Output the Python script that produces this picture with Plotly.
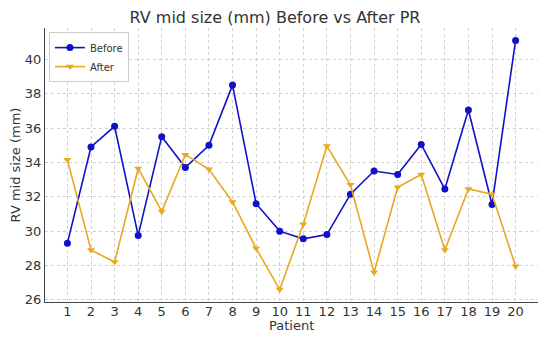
import plotly.graph_objects as go

patients = list(range(1, 21))
before = [29.3, 34.9, 36.1, 29.75, 35.5, 33.7, 35.0, 38.5, 31.6, 30.0,
          29.55, 29.8, 32.15, 33.5, 33.3, 35.05, 32.45, 37.05, 31.55, 41.1]
after = [34.15, 28.9, 28.2, 33.65, 31.15, 34.45, 33.6, 31.7, 29.0, 26.6,
         30.4, 34.95, 32.7, 27.6, 32.55, 33.3, 28.9, 32.45, 32.15, 27.95]
tick_y = [26, 28, 30, 32, 34, 36, 38, 40]

fig = go.Figure()
fig.add_trace(go.Scatter(x=patients, y=before, name="Before", mode="lines+markers",
                         line=dict(color="#1010c8", width=1.6),
                         marker=dict(symbol="circle", size=7, color="#1010c8")))
fig.add_trace(go.Scatter(x=patients, y=after, name="After", mode="lines+markers",
                         line=dict(color="#e8a820", width=1.6),
                         marker=dict(symbol="triangle-down", size=7, color="#e8a820")))

font = "DejaVu Sans, sans-serif"
fig.update_layout(
    width=550, height=340,
    margin=dict(l=45, r=12, t=28, b=38),
    paper_bgcolor="white", plot_bgcolor="white",
    font=dict(family=font, color="#333333", size=13),
    title=dict(text="RV mid size (mm) Before vs After PR", x=0.5, xanchor="center",
               y=0.95, yanchor="middle", font=dict(size=16, color="#333333")),
    legend=dict(x=0.008, y=0.985, xanchor="left", yanchor="top",
                bordercolor="#cccccc", borderwidth=1, bgcolor="rgba(255,255,255,0.9)",
                font=dict(size=10), itemwidth=30, tracegroupgap=0),
    showlegend=True,
    annotations=[
        dict(text="RV mid size (mm)", xref="paper", yref="paper", x=-0.06, y=0.5,
             xanchor="center", yanchor="middle", textangle=-90, showarrow=False,
             font=dict(size=13, color="#333333")),
        dict(text="Patient", xref="paper", yref="paper", x=0.5, y=-0.086,
             xanchor="center", yanchor="middle", showarrow=False,
             font=dict(size=13, color="#333333")),
    ],
)
fig.update_xaxes(range=[0.05, 20.95], tickvals=patients, ticktext=[str(p) for p in patients],
                 showgrid=True, gridcolor="#d0d0d0", griddash="dot", gridwidth=1,
                 showline=True, linecolor="#444444", linewidth=1, mirror=False,
                 ticks="", zeroline=False, ticklabelstandoff=-3,
                 automargin=False, tickfont=dict(size=13))
fig.update_yaxes(range=[25.875, 41.825], tickvals=tick_y,
                 showgrid=True, gridcolor="#d0d0d0", griddash="dot", gridwidth=1,
                 showline=True, linecolor="#444444", linewidth=1, mirror=False,
                 ticks="", zeroline=False,
                 automargin=False, tickfont=dict(size=13))

fig.write_html("out.html", config={"displayModeBar": False},
               post_script="document.body.style.margin='0';")
